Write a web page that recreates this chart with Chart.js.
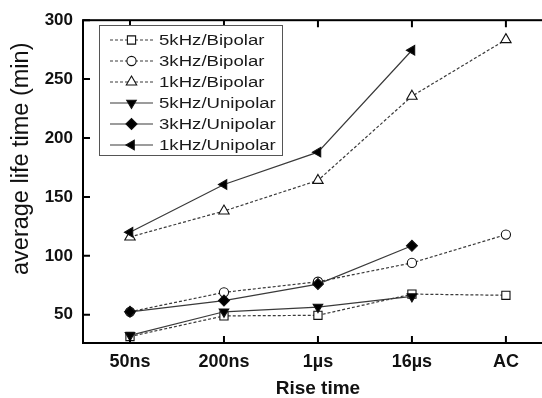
<!DOCTYPE html>
<html>
<head>
<meta charset="utf-8">
<script src="https://cdn.jsdelivr.net/npm/chart.js@4/dist/chart.umd.min.js"></script>
<style>
html,body{margin:0;padding:0;background:#fff;overflow:hidden;width:542px;height:398px;}
canvas{display:block;}
</style>
</head>
<body>
<canvas id="c" width="560" height="398" style="width:560px;height:398px"></canvas>
<script>
const categories = ['50ns', '200ns', '1\u00b5s', '16\u00b5s', 'AC'];
const yTickValues = [50, 100, 150, 200, 250, 300];
const seriesNames = ['5kHz/Bipolar', '3kHz/Bipolar', '1kHz/Bipolar', '5kHz/Unipolar', '3kHz/Unipolar', '1kHz/Unipolar'];
const bipolar5k = [31.5, 49, 49.5, 67.5, 66.5];
const bipolar3k = [52.5, 69, 78, 94, 118];
const bipolar1k = [116, 138, 164, 235.5, 283.5];
const unipolar5k = [32.5, 52.5, 56.5, 65.5, null];
const unipolar3k = [52.5, 62, 76, 108.5, null];
const unipolar1k = [120, 160.5, 188, 274.5, null];
const xTitle = 'Rise time';
const yTitle = 'average life time (min)';

const lineCol = '#3a3a3a';
function ds(label, data, style, rot, radius, filled, dashed) {
  return {
    label, data,
    borderColor: lineCol, borderWidth: 1.2,
    borderDash: dashed ? [3, 2] : [],
    pointStyle: style, rotation: rot, pointRadius: radius, pointHoverRadius: radius,
    pointBackgroundColor: filled ? '#000' : '#fff',
    pointBorderColor: '#111', pointBorderWidth: 1.1,
    fill: false, tension: 0, spanGaps: false
  };
}
const datasets = [
  ds(seriesNames[3], unipolar5k, 'triangle', 180, 5.5, true, false),
  ds(seriesNames[4], unipolar3k, 'rectRot', 0, 5.5, true, false),
  ds(seriesNames[5], unipolar1k, 'triangle', -90, 5.5, true, false),
  ds(seriesNames[0], bipolar5k, 'rect', 0, 5.8, false, true),
  ds(seriesNames[1], bipolar3k, 'circle', 0, 4.6, false, true),
  ds(seriesNames[2], bipolar1k, 'triangle', 0, 6, false, true)
];
const legendOrder = [3, 4, 5, 0, 1, 2];

function drawMarker(ctx, d, x, y) {
  ctx.save();
  ctx.fillStyle = d.pointBackgroundColor;
  ctx.strokeStyle = d.pointBorderColor;
  ctx.lineWidth = d.pointBorderWidth;
  ctx.setLineDash([]);
  if (Chart.helpers && Chart.helpers.drawPoint) {
    Chart.helpers.drawPoint(ctx, {pointStyle: d.pointStyle, rotation: d.rotation, radius: d.pointRadius, borderWidth: d.pointBorderWidth}, x, y);
  }
  ctx.restore();
}

const framePlugin = {
  id: 'frame',
  afterDraw(chart) {
    const ctx = chart.ctx;
    const a = chart.chartArea;
    const xs = chart.scales.x, ys = chart.scales.y;
    ctx.save();
    ctx.strokeStyle = '#000';
    ctx.lineWidth = 2;
    ctx.setLineDash([]);
    ctx.strokeRect(a.left, a.top, a.right - a.left, a.bottom - a.top);
    ctx.lineWidth = 2;
    const tl = 7;
    ctx.beginPath();
    for (let i = 0; i < categories.length; i++) {
      const px = xs.getPixelForValue(i);
      ctx.moveTo(px, a.bottom); ctx.lineTo(px, a.bottom - tl);
      ctx.moveTo(px, a.top); ctx.lineTo(px, a.top + tl);
    }
    for (const v of yTickValues) {
      const py = ys.getPixelForValue(v);
      ctx.moveTo(a.left, py); ctx.lineTo(a.left + tl, py);
      ctx.moveTo(a.right, py); ctx.lineTo(a.right - tl, py);
    }
    ctx.stroke();

    // legend
    const bx = 99, by = 25, bw = 183, bh = 130;
    ctx.fillStyle = '#fff';
    ctx.fillRect(bx, by, bw, bh);
    ctx.lineWidth = 1;
    ctx.strokeStyle = '#555';
    ctx.strokeRect(bx + 0.5, by + 0.5, bw, bh);
    legendOrder.forEach((di, row) => {
      const d = chart.data.datasets[di];
      const y = 40 + row * 21;
      ctx.save();
      ctx.strokeStyle = lineCol;
      ctx.lineWidth = 1.2;
      ctx.setLineDash(d.borderDash);
      ctx.beginPath();
      ctx.moveTo(110, y); ctx.lineTo(153, y);
      ctx.stroke();
      ctx.restore();
      drawMarker(ctx, d, 131.5, y);
      ctx.save();
      ctx.fillStyle = '#1a1a1a';
      ctx.font = '15.5px "Liberation Sans", Arial, sans-serif';
      ctx.textBaseline = 'middle';
      ctx.translate(159, y + 1);
      ctx.scale(1.2, 1);
      ctx.fillText(d.label, 0, 0);
      ctx.restore();
    });
    ctx.restore();
  }
};

new Chart(document.getElementById('c'), {
  type: 'line',
  data: { labels: categories, datasets },
  options: {
    responsive: false,
    animation: false,
    layout: { padding: { left: 0, top: 20, right: 7, bottom: 0 } },
    plugins: { legend: { display: false }, tooltip: { enabled: false } },
    scales: {
      x: {
        type: 'category', offset: true,
        grid: { display: false, drawTicks: false },
        border: { display: false },
        ticks: { color: '#111', padding: 8, font: { family: '"Liberation Sans", Arial, sans-serif', size: 18, weight: 'bold' } },
        title: { display: true, text: xTitle, color: '#111', padding: { top: 0, bottom: 0 }, font: { family: '"Liberation Sans", Arial, sans-serif', size: 19, weight: 'bold', lineHeight: 1 } },
        afterFit(s) { s.height = 55; }
      },
      y: {
        min: 26, max: 300,
        grid: { display: false, drawTicks: false },
        border: { display: false },
        afterBuildTicks(s) { s.ticks = yTickValues.map(v => ({ value: v })); },
        ticks: { color: '#111', padding: 10, font: { family: '"Liberation Sans", Arial, sans-serif', size: 17, weight: 'bold' } },
        title: { display: true, text: ' '.repeat(7) + yTitle, color: '#111', padding: { top: 10, bottom: 0 }, font: { family: '"Liberation Sans", Arial, sans-serif', size: 23.5, lineHeight: 1 } },
        afterFit(s) { s.width = 83; }
      }
    }
  },
  plugins: [framePlugin]
});
</script>
</body>
</html>
